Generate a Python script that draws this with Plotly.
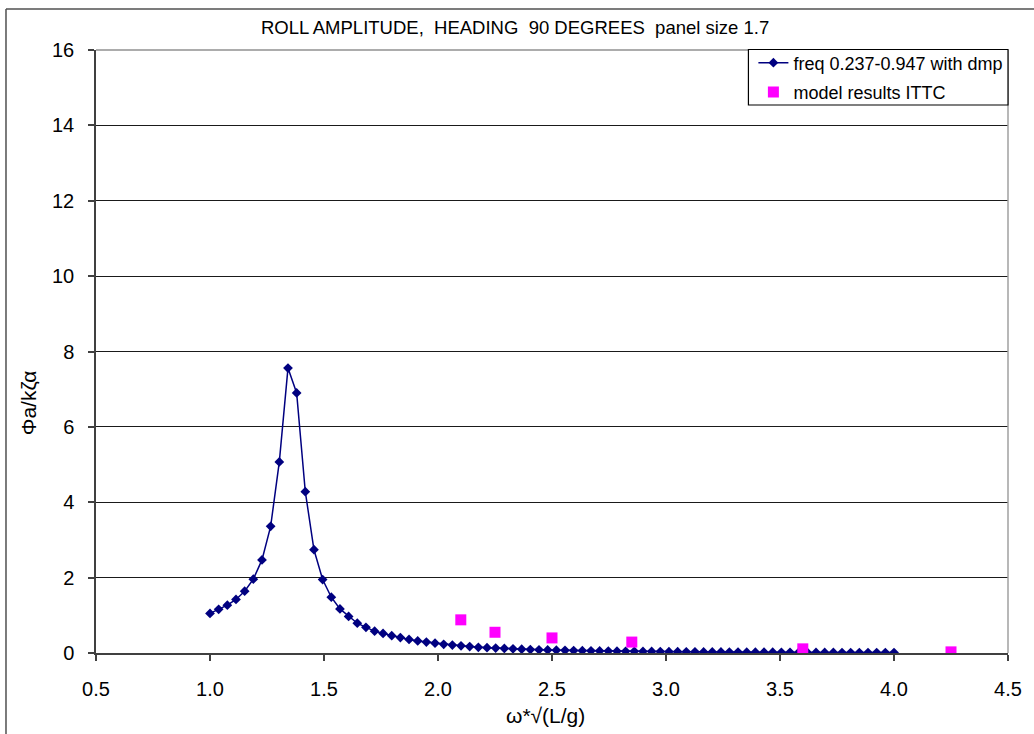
import plotly.graph_objects as go

# Computed roll response: non-dimensional frequency and roll amplitude
omega_nd = [
    1.000, 1.038, 1.076, 1.114, 1.152, 1.190, 1.228, 1.266, 1.304, 1.342,
    1.380, 1.418, 1.456, 1.494, 1.532, 1.570, 1.608, 1.646, 1.684, 1.722,
    1.759, 1.797, 1.835, 1.873, 1.911, 1.949, 1.987, 2.025, 2.063, 2.101,
    2.139, 2.177, 2.215, 2.253, 2.291, 2.329, 2.367, 2.405, 2.443, 2.481,
    2.519, 2.557, 2.595, 2.633, 2.671, 2.709, 2.747, 2.785, 2.823, 2.861,
    2.899, 2.937, 2.975, 3.013, 3.051, 3.089, 3.127, 3.165, 3.203, 3.241,
    3.278, 3.316, 3.354, 3.392, 3.430, 3.468, 3.506, 3.544, 3.582, 3.620,
    3.658, 3.696, 3.734, 3.772, 3.810, 3.848, 3.886, 3.924, 3.962, 4.000,
]
roll_amp = [
    1.05, 1.16, 1.27, 1.42, 1.64, 1.96, 2.47, 3.36, 5.07, 7.56,
    6.90, 4.28, 2.74, 1.95, 1.48, 1.17, 0.97, 0.79, 0.68, 0.58,
    0.52, 0.46, 0.41, 0.36, 0.32, 0.29, 0.26, 0.23, 0.21, 0.19,
    0.17, 0.15, 0.14, 0.13, 0.12, 0.11, 0.10, 0.09, 0.085, 0.08,
    0.075, 0.07, 0.066, 0.062, 0.058, 0.055, 0.052, 0.049, 0.046, 0.044,
    0.042, 0.040, 0.038, 0.036, 0.034, 0.032, 0.031, 0.029, 0.028, 0.027,
    0.025, 0.024, 0.023, 0.022, 0.021, 0.020, 0.019, 0.018, 0.017, 0.016,
    0.015, 0.014, 0.014, 0.013, 0.012, 0.012, 0.011, 0.011, 0.010, 0.010,
]

# ITTC model test results
model_omega_nd = [2.10, 2.25, 2.50, 2.85, 3.60, 4.25]
model_roll_amp = [0.88, 0.55, 0.40, 0.29, 0.11, 0.03]

x_ticks = [0.5, 1.0, 1.5, 2.0, 2.5, 3.0, 3.5, 4.0, 4.5]
y_ticks = [0, 2, 4, 6, 8, 10, 12, 14, 16]

FONT = "Liberation Sans, Arial, sans-serif"
W, H = 1034, 734
ML, MR, MT, MB = 96, 21, 50, 81
PW, PH = W - ML - MR, H - MT - MB


def px_x(p):
    return (p - ML) / PW


def px_y(p):
    return (H - MB - p) / PH


fig = go.Figure()
fig.add_trace(go.Scatter(
    x=omega_nd, y=roll_amp, mode="lines+markers",
    name="freq 0.237-0.947 with dmp", legendgroup="calc",
    line=dict(color="#000080", width=1.5),
    marker=dict(symbol="diamond", size=7.5, color="#000080"),
))
fig.add_trace(go.Scatter(
    x=model_omega_nd, y=model_roll_amp, mode="markers",
    name="model results ITTC", legendgroup="model",
    marker=dict(symbol="square", size=11, color="#FF00FF"),
))

axis_common = dict(
    showline=True, linecolor="#404040", linewidth=1.5,
    ticks="outside", ticklen=6, tickcolor="#404040", tickwidth=1.5,
    tickfont=dict(family=FONT, size=20, color="black"),
    zeroline=False,
)
fig.update_xaxes(range=[0.5, 4.5], tickvals=x_ticks, tickformat=".1f",
                 showgrid=False, ticklabelstandoff=11, **axis_common)
fig.update_yaxes(range=[0, 16], tickvals=y_ticks, showgrid=True,
                 gridcolor="#1a1a1a", gridwidth=1, ticklabelstandoff=10,
                 **axis_common)

shapes = [
    # plot area frame (top and right edges)
    dict(type="line", xref="paper", yref="paper", x0=0, x1=1, y0=1, y1=1,
         line=dict(color="#909090", width=1.5), layer="above"),
    dict(type="line", xref="paper", yref="paper", x0=1, x1=1, y0=0, y1=1,
         line=dict(color="#a0a0a0", width=1.5), layer="above"),
    # legend frame
    dict(type="rect", xref="paper", yref="paper",
         x0=px_x(752), x1=1, y0=px_y(105), y1=px_y(49.5),
         fillcolor="white", line=dict(color="black", width=1.2), layer="above"),
    # chart frame
    dict(type="line", xref="paper", yref="paper", x0=px_x(5.5), x1=px_x(1040),
         y0=px_y(9), y1=px_y(9), line=dict(color="#505050", width=1.5)),
    dict(type="line", xref="paper", yref="paper", x0=px_x(5.5), x1=px_x(5.5),
         y0=px_y(9), y1=px_y(740), line=dict(color="#505050", width=1.5)),
]

annotations = [
    dict(text="ROLL AMPLITUDE,  HEADING  90 DEGREES  panel size 1.7",
         xref="paper", yref="paper", x=px_x(517), y=px_y(27),
         xanchor="center", yanchor="middle", showarrow=False,
         font=dict(family=FONT, size=18.5, color="black")),
    dict(text="ω*√(L/g)", xref="paper", yref="paper", x=px_x(548), y=px_y(715),
         xanchor="center", yanchor="middle", showarrow=False,
         font=dict(family=FONT, size=21, color="black")),
    dict(text="Φa/kζα", xref="paper", yref="paper", x=px_x(28), y=px_y(403),
         xanchor="center", yanchor="middle", showarrow=False, textangle=-90,
         font=dict(family=FONT, size=21, color="black")),
]

fig.update_layout(
    width=W, height=H,
    margin=dict(l=ML, r=MR, t=MT, b=MB, pad=0),
    paper_bgcolor="white", plot_bgcolor="white",
    shapes=shapes, annotations=annotations,
    showlegend=True,
    legend=dict(x=px_x(757), y=px_y(44.5), xanchor="left", yanchor="top",
                bgcolor="rgba(0,0,0,0)", borderwidth=0,
                font=dict(family=FONT, size=18, color="black"),
                itemwidth=30, traceorder="grouped", tracegroupgap=3),
)

fig.write_html("out.html")
